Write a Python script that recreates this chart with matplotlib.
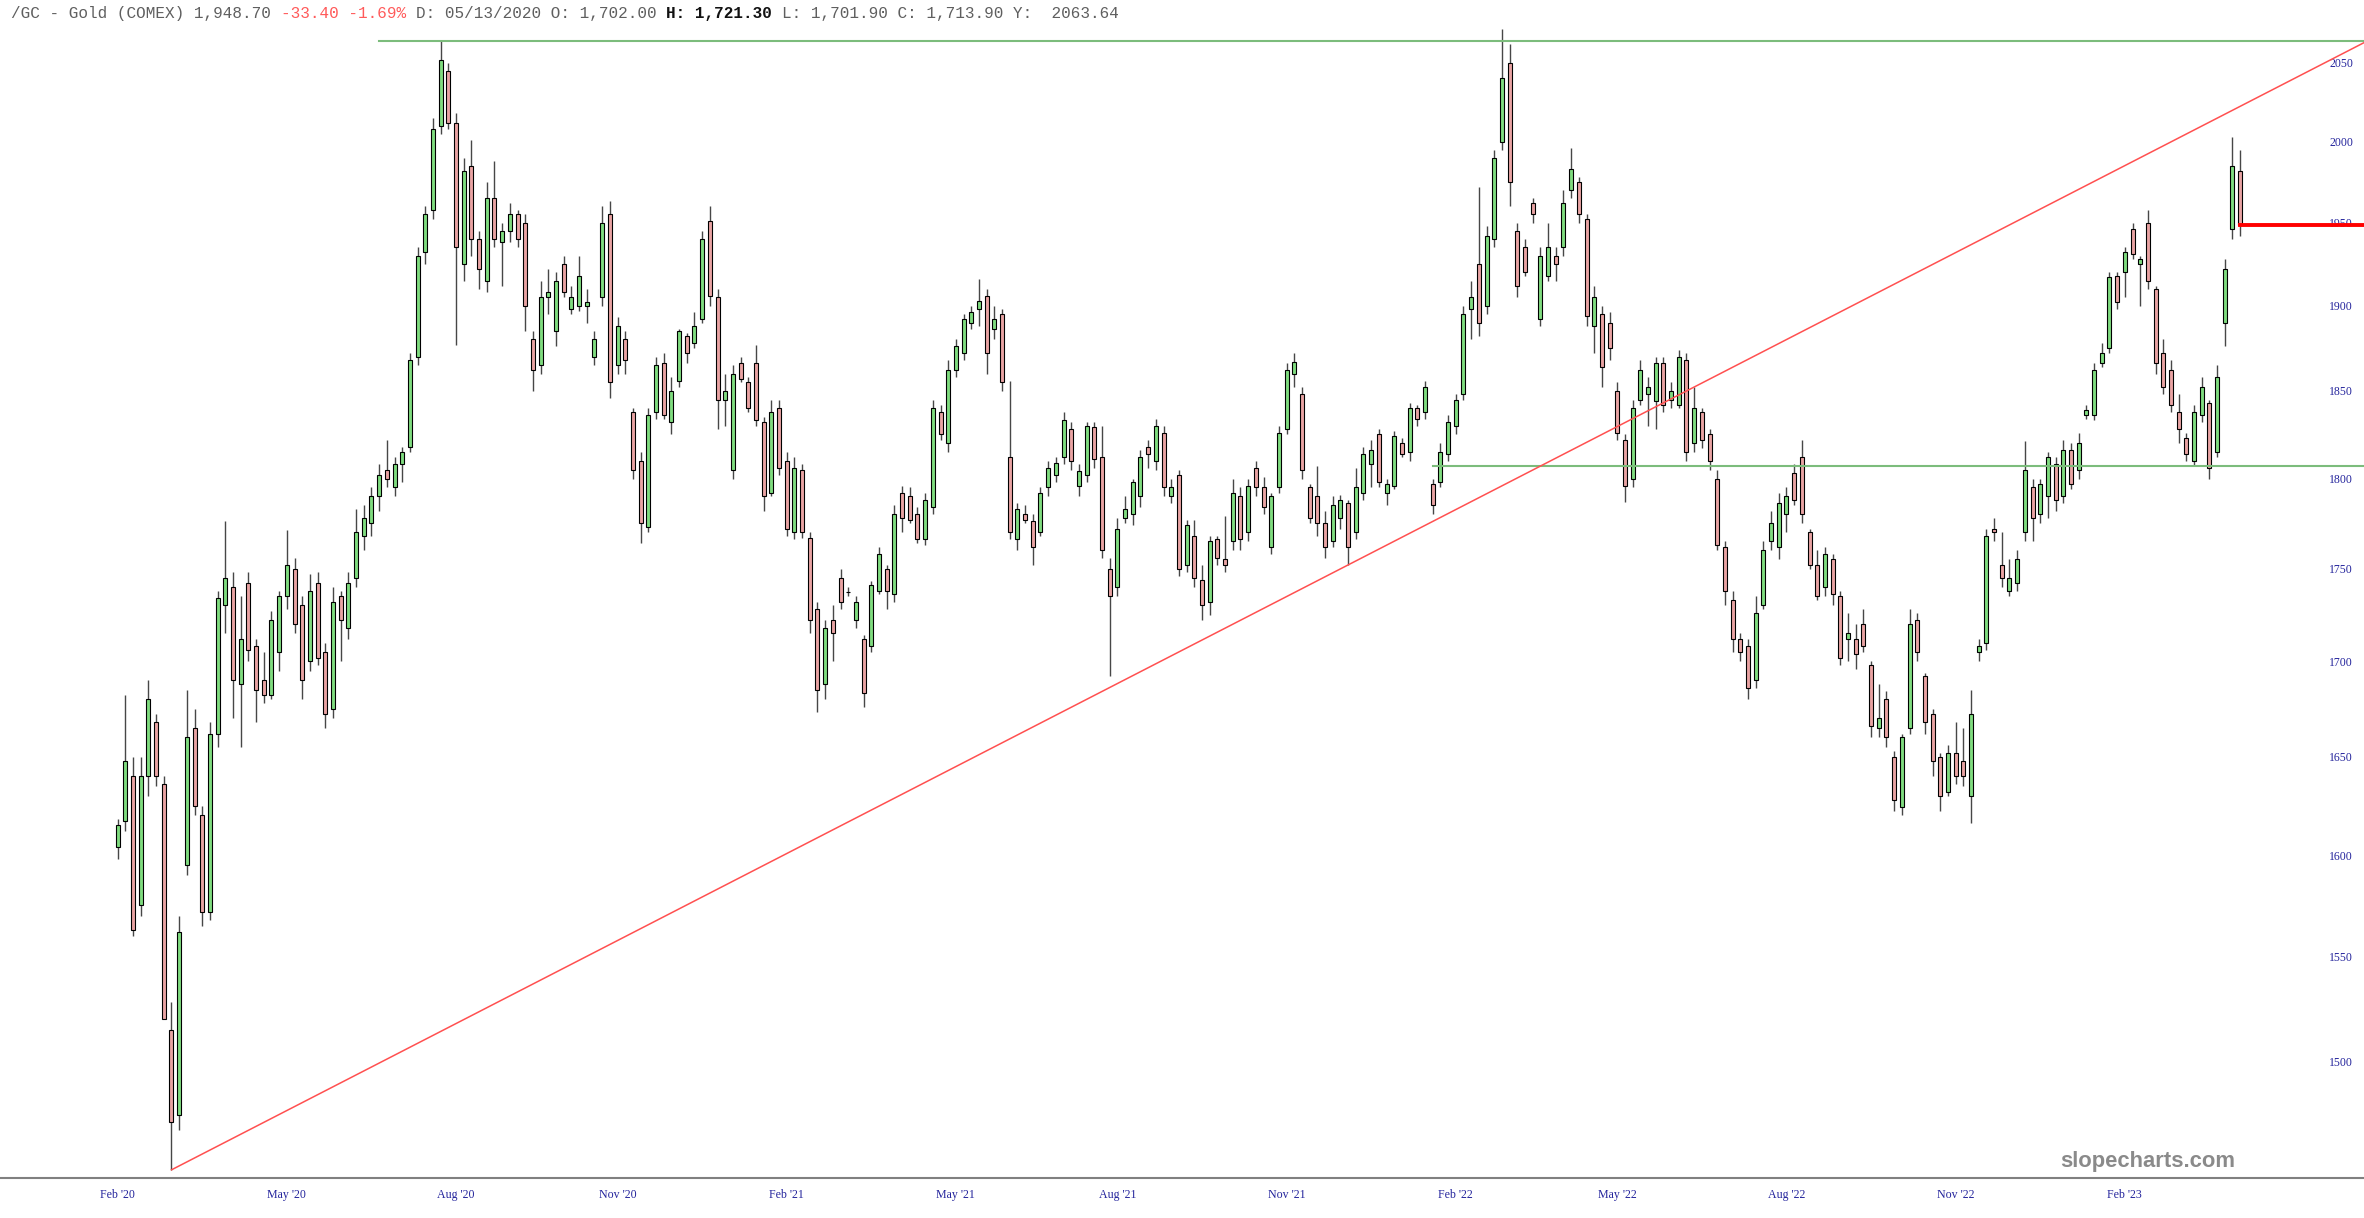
import numpy as np
import pandas as pd
import matplotlib
matplotlib.use("Agg")
import matplotlib.pyplot as plt
from matplotlib.ticker import NullLocator, NullFormatter

# /GC gold futures, one candle per 3 business days
start_date = '2020-02-03'

opens = [
    1604, 1617, 1640, 1575, 1640, 1668, 1636, 1515, 1475, 1595,
    1665, 1620, 1572, 1662, 1730, 1740, 1688, 1742, 1708, 1690,
    1682, 1705, 1735, 1750, 1730, 1700, 1742, 1705, 1675, 1735,
    1718, 1745, 1768, 1775, 1790, 1805, 1795, 1808, 1818, 1870,
    1932, 1958, 2010, 2045, 2012, 1925, 1985, 1940, 1915, 1965,
    1938, 1945, 1955, 1950, 1880, 1865, 1905, 1885, 1925, 1898,
    1900, 1900, 1870, 1905, 1955, 1865, 1880, 1838, 1810, 1773,
    1838, 1866, 1832, 1856, 1882, 1878, 1892, 1951, 1905, 1845,
    1805, 1866, 1855, 1866, 1832, 1792, 1840, 1810, 1770, 1805,
    1767, 1728, 1688, 1722, 1745, 1737, 1722, 1712, 1708, 1738,
    1750, 1736, 1792, 1790, 1780, 1766, 1784, 1838, 1820, 1862,
    1872, 1890, 1898, 1906, 1886, 1895, 1812, 1766, 1780, 1776,
    1770, 1795, 1802, 1812, 1828, 1796, 1802, 1829, 1812, 1750,
    1740, 1778, 1780, 1790, 1818, 1810, 1826, 1790, 1802, 1752,
    1768, 1744, 1732, 1766, 1755, 1765, 1790, 1770, 1806, 1795,
    1762, 1795, 1828, 1860, 1848, 1795, 1790, 1775, 1765, 1778,
    1786, 1770, 1792, 1808, 1825, 1792, 1796, 1820, 1815, 1840,
    1838, 1797, 1798, 1814, 1830, 1848, 1898, 1925, 1900, 1940,
    2000, 2050, 1945, 1935, 1962, 1892, 1918, 1930, 1935, 1970,
    1975, 1952, 1888, 1895, 1890, 1850, 1822, 1800, 1845, 1848,
    1844, 1866, 1845, 1842, 1868, 1820, 1838, 1825, 1800, 1762,
    1733, 1712, 1708, 1690, 1730, 1765, 1762, 1780, 1803, 1812,
    1770, 1752, 1740, 1755, 1735, 1712, 1712, 1720, 1698, 1665,
    1680, 1650, 1624, 1665, 1722, 1692, 1672, 1650, 1632, 1652,
    1648, 1630, 1705, 1710, 1772, 1752, 1738, 1742, 1770, 1795,
    1780, 1790, 1808, 1790, 1816, 1805, 1836, 1836, 1866, 1875,
    1918, 1920, 1946, 1925, 1950, 1910, 1872, 1862, 1838, 1823,
    1810, 1836, 1843, 1815, 1890, 1946, 1982,
]
highs = [
    1618, 1682, 1650, 1650, 1690, 1672, 1640, 1528, 1570, 1685,
    1675, 1625, 1668, 1738, 1776, 1748, 1735, 1748, 1712, 1705,
    1727, 1738, 1771, 1756, 1735, 1747, 1748, 1710, 1740, 1738,
    1748, 1783, 1785, 1795, 1808, 1822, 1812, 1818, 1872, 1935,
    1960, 2015, 2064, 2050, 2018, 1990, 2001, 1945, 1975, 1988,
    1950, 1962, 1958, 1955, 1885, 1915, 1922, 1920, 1930, 1912,
    1930, 1910, 1885, 1960, 1963, 1893, 1885, 1840, 1815, 1840,
    1870, 1872, 1858, 1886, 1884, 1896, 1945, 1960, 1910, 1860,
    1865, 1870, 1858, 1877, 1835, 1845, 1845, 1815, 1812, 1808,
    1770, 1732, 1722, 1730, 1750, 1740, 1735, 1714, 1743, 1762,
    1752, 1785, 1796, 1795, 1784, 1792, 1845, 1842, 1868, 1880,
    1895, 1900, 1916, 1910, 1900, 1898, 1856, 1786, 1785, 1780,
    1795, 1810, 1812, 1838, 1832, 1808, 1832, 1832, 1830, 1756,
    1778, 1790, 1800, 1816, 1822, 1834, 1830, 1800, 1805, 1777,
    1777, 1752, 1768, 1768, 1779, 1800, 1795, 1800, 1810, 1801,
    1792, 1830, 1866, 1872, 1852, 1797, 1807, 1782, 1790, 1791,
    1788, 1806, 1818, 1822, 1828, 1800, 1827, 1823, 1843, 1842,
    1856, 1800, 1820, 1836, 1848, 1900, 1915, 1972, 1948, 1995,
    2072, 2062, 1950, 1940, 1965, 1935, 1950, 1935, 1970, 1996,
    1978, 1955, 1912, 1900, 1896, 1855, 1825, 1845, 1868, 1858,
    1870, 1870, 1855, 1874, 1872, 1852, 1840, 1828, 1805, 1765,
    1738, 1715, 1712, 1735, 1765, 1782, 1792, 1795, 1808, 1822,
    1772, 1760, 1762, 1758, 1738, 1726, 1720, 1728, 1700, 1688,
    1684, 1653, 1662, 1728, 1726, 1694, 1675, 1652, 1656, 1668,
    1665, 1685, 1712, 1772, 1778, 1770, 1755, 1760, 1821, 1800,
    1800, 1815, 1812, 1822, 1820, 1826, 1842, 1866, 1878, 1920,
    1920, 1935, 1950, 1930, 1958, 1912, 1880, 1868, 1848, 1826,
    1842, 1858, 1845, 1865, 1928, 2003, 1995,
]
lows = [
    1598, 1612, 1560, 1570, 1630, 1635, 1520, 1450, 1468, 1590,
    1620, 1565, 1568, 1655, 1715, 1670, 1655, 1700, 1668, 1678,
    1680, 1695, 1728, 1715, 1680, 1695, 1698, 1665, 1670, 1700,
    1712, 1740, 1760, 1768, 1782, 1795, 1790, 1798, 1815, 1865,
    1925, 1952, 2005, 2008, 1877, 1915, 1930, 1910, 1908, 1935,
    1912, 1938, 1935, 1885, 1850, 1860, 1895, 1876, 1905, 1895,
    1897, 1890, 1865, 1900, 1846, 1860, 1860, 1800, 1764, 1770,
    1834, 1834, 1825, 1852, 1866, 1875, 1890, 1900, 1828, 1830,
    1800, 1855, 1838, 1830, 1782, 1790, 1802, 1768, 1766, 1767,
    1715, 1673, 1680, 1700, 1728, 1735, 1718, 1676, 1705, 1736,
    1728, 1732, 1770, 1775, 1764, 1763, 1780, 1822, 1815, 1858,
    1868, 1886, 1888, 1860, 1880, 1850, 1766, 1760, 1775, 1752,
    1768, 1790, 1798, 1808, 1805, 1790, 1798, 1806, 1756, 1692,
    1735, 1775, 1774, 1784, 1806, 1805, 1790, 1786, 1746, 1748,
    1740, 1722, 1725, 1752, 1748, 1760, 1760, 1765, 1790, 1780,
    1758, 1792, 1825, 1852, 1800, 1775, 1768, 1756, 1762, 1772,
    1752, 1766, 1788, 1795, 1795, 1785, 1794, 1812, 1810, 1830,
    1834, 1780, 1795, 1810, 1825, 1845, 1880, 1882, 1895, 1935,
    1995, 1960, 1905, 1918, 1950, 1888, 1915, 1915, 1930, 1965,
    1950, 1888, 1872, 1852, 1868, 1822, 1787, 1795, 1842, 1830,
    1828, 1838, 1840, 1840, 1810, 1815, 1817, 1805, 1760, 1730,
    1705, 1700, 1680, 1686, 1728, 1760, 1755, 1770, 1785, 1775,
    1750, 1733, 1735, 1730, 1698, 1700, 1696, 1705, 1660, 1660,
    1655, 1622, 1620, 1662, 1700, 1662, 1640, 1622, 1630, 1636,
    1635, 1616, 1700, 1706, 1765, 1740, 1735, 1738, 1765, 1765,
    1775, 1778, 1782, 1786, 1794, 1800, 1834, 1833, 1864, 1872,
    1898, 1905, 1928, 1900, 1910, 1860, 1848, 1838, 1820, 1810,
    1807, 1832, 1800, 1812, 1876, 1940, 1942,
]
closes = [
    1615, 1648, 1563, 1640, 1680, 1640, 1520, 1472, 1562, 1660,
    1625, 1572, 1662, 1734, 1745, 1690, 1712, 1706, 1685, 1682,
    1722, 1735, 1752, 1720, 1690, 1738, 1702, 1672, 1732, 1722,
    1742, 1770, 1778, 1790, 1802, 1800, 1808, 1815, 1868, 1930,
    1955, 2008, 2052, 2012, 1935, 1982, 1940, 1922, 1965, 1940,
    1945, 1955, 1940, 1900, 1862, 1905, 1908, 1915, 1908, 1905,
    1918, 1902, 1880, 1950, 1855, 1888, 1868, 1805, 1775, 1836,
    1865, 1836, 1850, 1885, 1872, 1888, 1940, 1906, 1845, 1850,
    1860, 1857, 1840, 1833, 1790, 1838, 1806, 1772, 1806, 1770,
    1722, 1685, 1718, 1715, 1732, 1737, 1732, 1683, 1741, 1758,
    1738, 1780, 1778, 1777, 1766, 1788, 1840, 1825, 1862, 1876,
    1892, 1896, 1903, 1872, 1892, 1855, 1770, 1783, 1777, 1762,
    1792, 1806, 1809, 1833, 1810, 1804, 1830, 1811, 1760, 1735,
    1772, 1783, 1798, 1812, 1814, 1830, 1795, 1795, 1750, 1774,
    1745, 1730, 1765, 1756, 1752, 1792, 1766, 1796, 1795, 1784,
    1790, 1826, 1862, 1867, 1805, 1778, 1775, 1762, 1785, 1788,
    1762, 1795, 1814, 1816, 1798, 1797, 1824, 1814, 1840, 1834,
    1852, 1785, 1815, 1832, 1845, 1895, 1905, 1890, 1942, 1990,
    2040, 1975, 1912, 1920, 1955, 1930, 1935, 1925, 1962, 1983,
    1955, 1894, 1905, 1864, 1875, 1826, 1796, 1840, 1862, 1852,
    1866, 1842, 1850, 1870, 1815, 1840, 1822, 1810, 1763, 1738,
    1712, 1705, 1686, 1726, 1760, 1775, 1786, 1790, 1788, 1780,
    1752, 1735, 1758, 1736, 1702, 1715, 1704, 1708, 1666, 1670,
    1660, 1628, 1660, 1720, 1705, 1668, 1648, 1630, 1652, 1640,
    1640, 1672, 1708, 1768, 1770, 1745, 1745, 1755, 1805, 1778,
    1797, 1812, 1788, 1816, 1797, 1820, 1839, 1862, 1872, 1917,
    1902, 1932, 1931, 1928, 1915, 1866, 1852, 1842, 1828, 1814,
    1838, 1852, 1806, 1858, 1922, 1985, 1948.70,
]

month_starts = ['2020-02-01', '2020-05-01', '2020-08-01', '2020-11-01',
                '2021-02-01', '2021-05-01', '2021-08-01', '2021-11-01',
                '2022-02-01', '2022-05-01', '2022-08-01', '2022-11-01',
                '2023-02-01']
month_labels = ["Feb '20", "May '20", "Aug '20", "Nov '20", "Feb '21", "May '21",
                "Aug '21", "Nov '21", "Feb '22", "May '22", "Aug '22", "Nov '22",
                "Feb '23"]
price_ticks = [1500, 1550, 1600, 1650, 1700, 1750, 1800, 1850, 1900, 1950, 2000, 2050]

# drawn lines: (bar index, price)
resistance = (34, 2063.64)
support = (171, 1807)
trend_a = (7, 1450)
trend_b = (160, 1752)

header = [("/GC - Gold (COMEX) 1,948.70 ", '#5f5f5f', 'normal'),
          ("-33.40 -1.69% ", '#ff5a5a', 'normal'),
          ("D: 05/13/2020 O: 1,702.00 ", '#5f5f5f', 'normal'),
          ("H: 1,721.30 ", '#111111', 'bold'),
          ("L: 1,701.90 C: 1,713.90 Y:  2063.64", '#5f5f5f', 'normal')]

W, H = 2364, 1218
fig = plt.figure(figsize=(W / 100, H / 100), dpi=100)
fig.patch.set_facecolor('white')
ax = fig.add_axes([0, 40 / H, 1, 1178 / H])

o = np.array(opens, float)
h = np.array(highs, float)
l = np.array(lows, float)
c = np.array(closes, float)
x = np.arange(len(c))
bar_dates = pd.bdate_range(start_date, periods=len(c), freq='3B')

xmin, xmax = -15.3, 292.1
ax.set_yscale('log')
ax.set_xlim(xmin, xmax)
ax.set_ylim(1446.3, 2090.6)

# candles
up = c >= o
ax.vlines(x, l, h, color='#474747', lw=1.0, zorder=2)
lo = np.minimum(o, c)
hi = np.maximum(o, c)
ax.bar(x, np.maximum(hi - lo, 0.4), bottom=lo, width=0.52,
       color=np.where(up, '#7fdc7f', '#e9a3a3'), edgecolor='black',
       linewidth=0.8, zorder=3)

# trend lines
ax.plot([resistance[0], xmax], [resistance[1]] * 2, color='#7cbc7c', lw=1.5, zorder=4)
ax.plot([support[0], xmax], [support[1]] * 2, color='#7cbc7c', lw=1.5, zorder=4)
k = np.log(trend_b[1] / trend_a[1]) / (trend_b[0] - trend_a[0])
ax.plot([trend_a[0], xmax], [trend_a[1], trend_a[1] * np.exp(k * (xmax - trend_a[0]))],
        color='#ff5050', lw=1.1, zorder=4)
ax.plot([x[-1], xmax], [c[-1]] * 2, color='#ff0000', lw=2.8, zorder=5)

# axes styling
for s in ['top', 'left', 'right']:
    ax.spines[s].set_visible(False)
ax.spines['bottom'].set_color('#808080')
ax.spines['bottom'].set_linewidth(1.5)

ax.yaxis.tick_right()
ax.set_yticks(price_ticks)
ax.set_yticklabels([str(p) for p in price_ticks])
ax.yaxis.set_minor_locator(NullLocator())
ax.yaxis.set_minor_formatter(NullFormatter())
ax.tick_params(axis='y', length=0, pad=-8, labelsize=8.5, labelcolor='#24249c')
for t in ax.get_yticklabels():
    t.set_horizontalalignment('right')
    t.set_fontfamily('Liberation Serif')

tick_pos = np.searchsorted(bar_dates, pd.to_datetime(month_starts))
ax.set_xticks(tick_pos)
ax.set_xticklabels(month_labels)
ax.tick_params(axis='x', length=0, pad=8, labelsize=8.6, labelcolor='#24249c')
for t in ax.get_xticklabels():
    t.set_fontfamily('Liberation Serif')

# header line, monospace so pieces line up by character count
fs = 11.56
cw = 0.6 * fs * 100 / 72
n = 0
for txt, col, wt in header:
    fig.text((11 + n * cw) / W, 1 - 13.7 / H, txt, family='Liberation Mono',
             fontsize=fs, color=col, fontweight=wt, va='center', ha='left')
    n += len(txt)

fig.text(2148 / W, 1 - 1161 / H, 'slopecharts.com', family='Liberation Sans',
         fontsize=15.8, fontweight='bold', color='#8a8a8a', ha='center', va='center')

fig.savefig('out.png', dpi=100, facecolor='white')
